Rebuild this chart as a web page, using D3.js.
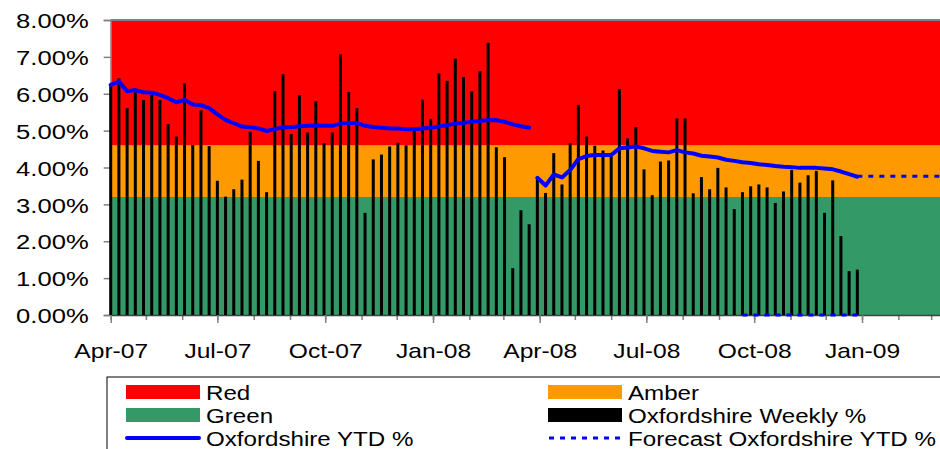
<!DOCTYPE html>
<html>
  <head>
    <title>Oxfordshire Weekly %</title>
    <script src="https://d3js.org/d3.v7.min.js" charset="utf-8"></script>
    <style>
      body {
        margin: 0;
        background: #ffffff;
      }
      svg {
        display: block;
        font-family: "Liberation Sans", Arial, sans-serif;
      }
    </style>
  </head>
  <body>
    <svg></svg>

    <script>
      // weekly % (week 1 = w/c 1 Apr 2007)
      const weekly = [
        6.24, 6.42, 5.61, 6.04, 5.83, 5.97, 5.83, 5.18, 4.84, 6.28, 4.61, 5.55,
        4.58, 3.64, 3.21, 3.41, 3.67, 4.97, 4.18, 3.33, 6.07, 6.53, 4.91, 5.96,
        4.95, 5.8, 4.66, 4.95, 7.07, 6.05, 5.61, 2.77, 4.22, 4.35, 4.57, 4.67,
        4.6, 4.99, 5.84, 5.32, 6.55, 6.35, 6.95, 6.45, 6.07, 6.61, 7.38, 4.55,
        4.28, 1.27, 2.84, 2.46, 3.69, 3.31, 4.39, 3.54, 4.66, 5.7, 4.84, 4.59,
        4.46, 4.33, 6.13, 4.79, 5.1, 3.95, 3.25, 4.16, 4.19, 5.33, 5.33, 3.3,
        3.74, 3.41, 3.99, 3.46, 2.87, 3.33, 3.49, 3.54, 3.46, 3.04, 3.35, 3.93,
        3.59, 3.79, 3.91, 2.77, 3.65, 2.14, 1.19, 1.23,
      ];

      // YTD %, 2007/08 (weeks 1-52) and 2008/09 (weeks 53-92)
      const ytd0708 = [
        6.24, 6.33, 6.07, 6.1, 6.04, 6.03, 5.97, 5.88, 5.77, 5.83, 5.71, 5.69,
        5.61, 5.44, 5.29, 5.2, 5.11, 5.09, 5.06, 4.99, 5.04, 5.09, 5.09, 5.12,
        5.13, 5.14, 5.13, 5.13, 5.19, 5.21, 5.21, 5.13, 5.1, 5.08, 5.06, 5.06,
        5.04, 5.04, 5.06, 5.08, 5.11, 5.15, 5.19, 5.21, 5.24, 5.26, 5.29, 5.28,
        5.24, 5.17, 5.12, 5.08,
      ];
      const ytd0809 = [
        3.72, 3.51, 3.81, 3.73, 3.93, 4.23, 4.31, 4.34, 4.34, 4.34, 4.52, 4.54,
        4.57, 4.52, 4.45, 4.43, 4.41, 4.47, 4.41, 4.38, 4.32, 4.3, 4.27, 4.21,
        4.18, 4.14, 4.12, 4.09, 4.07, 4.04, 4.02, 4.01, 3.99, 3.99, 3.99, 3.97,
        3.95, 3.89, 3.82, 3.75,
      ];

      // forecast YTD % (weeks 92-105) and the zero stretch drawn on the axis (weeks 78-92)
      const forecastWeeks = [92, 93, 94, 95, 96, 97, 98, 99, 100, 101, 102, 103, 104, 105];
      const forecast = [3.76, 3.76, 3.76, 3.76, 3.76, 3.76, 3.76, 3.76, 3.76, 3.76, 3.76, 3.76, 3.76, 3.76];
      const forecastZeroWeeks = [78, 79, 80, 81, 82, 83, 84, 85, 86, 87, 88, 89, 90, 91, 92];

      // RAG bands
      const bandNames = ["Green", "Amber", "Red"];
      const bandLow = [0, 3.2, 4.6];
      const bandHigh = [3.2, 4.6, 8];

      const yTicks = [0, 1, 2, 3, 4, 5, 6, 7, 8];
      const xLabelMonths = ["2007-04", "2007-07", "2007-10", "2008-01", "2008-04", "2008-07", "2008-10", "2009-01"];

      const legendLabels = [
        "Red",
        "Amber",
        "Green",
        "Oxfordshire Weekly %",
        "Oxfordshire YTD %",
        "Forecast Oxfordshire YTD %",
      ];

      const bandColor = { Red: "#ff0000", Amber: "#ff9900", Green: "#339966" };
      const blue = "#0000ff";

      const W = 940;
      const H = 449;
      const plot = { left: 110.7, top: 20, bottom: 315 };
      const pxPerDay = 1.1721;

      const start = new Date(Date.UTC(2007, 3, 1));
      const end = new Date(Date.UTC(2009, 3, 1));
      const weekDate = (w) => d3.utcDay.offset(start, (w - 1) * 7);
      const parseMonth = d3.utcParse("%Y-%m");

      const x = d3
        .scaleUtc()
        .domain([start, end])
        .range([plot.left, plot.left + d3.utcDay.count(start, end) * pxPerDay]);

      const y = d3.scaleLinear().domain([0, 8]).range([plot.bottom, plot.top]);

      const svg = d3.select("svg").attr("width", W).attr("height", H);

      svg.append("rect").attr("width", W).attr("height", H).attr("fill", "#fff");

      // bands
      svg
        .append("g")
        .selectAll("rect")
        .data(bandNames)
        .enter()
        .append("rect")
        .attr("x", x.range()[0])
        .attr("width", x.range()[1] - x.range()[0])
        .attr("y", (d, i) => y(bandHigh[i]))
        .attr("height", (d, i) => y(bandLow[i]) - y(bandHigh[i]))
        .attr("fill", (d) => bandColor[d]);

      // top border of plot area
      svg
        .append("line")
        .attr("x1", x.range()[0])
        .attr("x2", x.range()[1])
        .attr("y1", plot.top)
        .attr("y2", plot.top)
        .attr("stroke", "#808080")
        .attr("stroke-width", 2);

      // y axis
      const yAxis = svg
        .append("g")
        .attr("transform", `translate(${plot.left}, 0)`)
        .call(
          d3
            .axisLeft(y)
            .tickValues(yTicks)
            .tickSize(7)
            .tickFormat((d) => d.toFixed(2) + "%")
        );
      yAxis.select(".domain").attr("stroke", "#808080").attr("stroke-width", 1.5);
      yAxis.selectAll(".tick line").attr("stroke", "#808080").attr("stroke-width", 1.5);
      yAxis
        .selectAll(".tick text")
        .attr("x", 0)
        .attr("transform", "translate(-22, 1) scale(1.22, 1)")
        .attr("font-size", 21)
        .attr("font-family", "Liberation Sans, Arial, sans-serif")
        .attr("fill", "#000");

      // x axis: monthly minor ticks, quarterly labels
      const xMinor = svg
        .append("g")
        .attr("transform", `translate(0, ${plot.bottom})`)
        .call(d3.axisBottom(x).ticks(d3.utcMonth.every(1)).tickSize(5).tickFormat(""));
      xMinor.select(".domain").remove();
      xMinor.selectAll(".tick line").attr("stroke", "#808080").attr("stroke-width", 1.5);

      const xAxis = svg
        .append("g")
        .attr("transform", `translate(0, ${plot.bottom})`)
        .call(
          d3
            .axisBottom(x)
            .tickValues(xLabelMonths.map(parseMonth))
            .tickSize(8)
            .tickPadding(20)
            .tickSizeOuter(0)
            .tickFormat(d3.utcFormat("%b-%y"))
        );
      xAxis.select(".domain").attr("stroke", "#404040").attr("stroke-width", 1.5);
      xAxis.selectAll(".tick line").attr("stroke", "#808080").attr("stroke-width", 1.5);
      xAxis
        .selectAll(".tick text")
        .attr("transform", "scale(1.2, 1)")
        .attr("font-size", 20.5)
        .attr("font-family", "Liberation Sans, Arial, sans-serif")
        .attr("fill", "#000");

      // weekly bars
      svg
        .append("g")
        .selectAll("rect")
        .data(weekly)
        .enter()
        .append("rect")
        .attr("x", (d, i) => x(weekDate(i + 1)) - 1.5)
        .attr("width", 3)
        .attr("y", (d) => y(d))
        .attr("height", (d) => y(0) - y(d))
        .attr("fill", "#000");

      const line = d3
        .line()
        .x((d) => x(weekDate(d.week)))
        .y((d) => y(d.value));

      const ytdSeries = [
        ytd0708.map((v, i) => ({ week: i + 1, value: v })),
        ytd0809.map((v, i) => ({ week: i + 53, value: v })),
      ];

      svg
        .append("g")
        .selectAll("path")
        .data(ytdSeries)
        .enter()
        .append("path")
        .attr("d", line)
        .attr("fill", "none")
        .attr("stroke", blue)
        .attr("stroke-width", 4)
        .attr("stroke-linejoin", "round")
        .attr("stroke-linecap", "round");

      const forecastSeries = [
        forecastZeroWeeks.map((w) => ({ week: w, value: 0 })),
        forecastWeeks.map((w, i) => ({ week: w, value: forecast[i] })),
      ];

      svg
        .append("g")
        .selectAll("path")
        .data(forecastSeries)
        .enter()
        .append("path")
        .attr("d", line)
        .attr("fill", "none")
        .attr("stroke", blue)
        .attr("stroke-width", 3)
        .attr("stroke-dasharray", "5 6");

      // legend
      const legend = svg.append("g").attr("transform", "translate(107, 377)");

      legend
        .append("rect")
        .attr("x", 0)
        .attr("y", 0)
        .attr("width", 900)
        .attr("height", 100)
        .attr("fill", "#fff")
        .attr("stroke", "#000")
        .attr("stroke-width", 1);

      legendLabels.forEach((label, i) => {
        const row = legend
          .append("g")
          .attr("transform", `translate(${19 + (i % 2) * 422}, ${15 + Math.floor(i / 2) * 23})`);

        if (i < 4) {
          const fill = i === 3 ? "#000" : bandColor[label];
          row
            .append("rect")
            .attr("x", 0)
            .attr("y", -7)
            .attr("width", 74)
            .attr("height", 14)
            .attr("fill", fill);
        } else {
          row
            .append("line")
            .attr("x1", 1)
            .attr("x2", 73)
            .attr("y1", 0)
            .attr("y2", 0)
            .attr("stroke", blue)
            .attr("stroke-width", i === 4 ? 4 : 3)
            .attr("stroke-linecap", i === 4 ? "round" : "butt")
            .attr("stroke-dasharray", i === 4 ? null : "5 6");
        }

        row
          .append("text")
          .attr("transform", "translate(80, 0) scale(1.15, 1)")
          .attr("dy", "0.36em")
          .attr("font-size", 21)
          .attr("fill", "#000")
          .text(label);
      });
    </script>
  </body>
</html>
